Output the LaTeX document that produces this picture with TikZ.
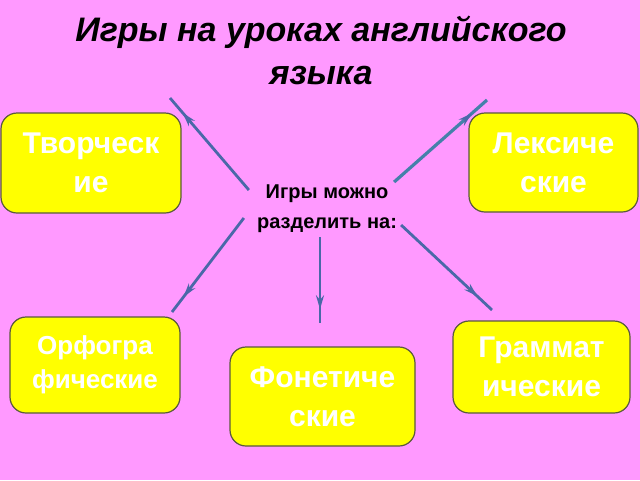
\documentclass[tikz,border=0pt]{standalone}
\usepackage{fontspec}
\setmainfont{Liberation Sans}
\usetikzlibrary{arrows.meta,decorations.markings}
\definecolor{bg}{HTML}{FF99FF}
\definecolor{boxy}{HTML}{FFFF00}
\definecolor{boxline}{HTML}{5A5A3C}
\definecolor{arrc}{HTML}{4A68A8}
\definecolor{arrt}{HTML}{4580AA}
\begin{document}
\begin{tikzpicture}[x=1pt,y=-1pt,
 box/.style={draw=boxline, line width=1.2pt, fill=boxy, rounded corners=16pt,
   align=center, text=white, inner sep=0pt,
   font=\bfseries\fontsize{30}{39}\selectfont},
 arr/.style={draw=arrc, line width=2.8pt, postaction={decorate},
   decoration={markings, mark=at position 0.84 with {\arrow[arrc]{Stealth[length=14pt,width=8pt]}}}},
]
\fill[bg] (0,0) rectangle (640,480);
\useasboundingbox (0,0) rectangle (640,480);

\node[font=\bfseries\itshape\fontsize{34}{43}\selectfont, text=black, align=center]
  (title) at (321,50) {Игры на уроках английского\\языка};

\node[font=\bfseries\fontsize{20}{30}\selectfont, align=center, inner sep=4pt]
  (c) at (327,209) {Игры можно\\разделить на:};

\node[box, minimum width=180pt, minimum height=100pt] (t) at (91,163) {Творческ\\ие};
\node[box, minimum width=169pt, minimum height=99pt] (l) at (553.5,162.5) {Лексиче\\ские};
\node[box, minimum width=170pt, minimum height=96pt, font=\bfseries\fontsize{26}{34}\selectfont] (o) at (95,365) {Орфогра\\фические};
\node[box, minimum width=185pt, minimum height=99pt] (f) at (322.5,396.5) {Фонетиче\\ские};
\node[box, minimum width=177pt, minimum height=92pt] (g) at (541.5,367) {Граммат\\ические};

\coordinate (e1) at (170,98);
\coordinate (e2) at (487,100);
\coordinate (e3) at (172,312);
\coordinate (e4) at (320,323);
\coordinate (e5) at (492,310);

\draw[arr] ([shift={(-4,-19)}]c.west) -- (e1);
\draw[arr, draw=arrt, line width=3.2pt] ([shift={(-7,-27)}]c.east) -- (e2);
\draw[arr] ([shift={(-9,9)}]c.west) -- (e3);
\draw[arr] ([shift={(-7,0)}]c.south) -- (e4);
\draw[arr] ([shift={(0,16)}]c.east) -- (e5);
\end{tikzpicture}
\end{document}
